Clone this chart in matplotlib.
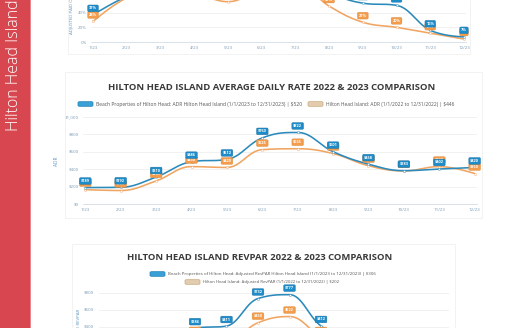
import numpy as np
import matplotlib
matplotlib.use("Agg")
import matplotlib.pyplot as plt
from matplotlib.patches import Rectangle, FancyBboxPatch

plt.rcParams['font.family'] = ['Open Sans', 'DejaVu Sans']

# ---- data ----
months = ['1/23', '2/23', '3/23', '4/23', '5/23', '6/23',
          '7/23', '8/23', '9/23', '10/23', '11/23', '12/23']

occ_beach = [37, 62, 75, 80, 78, 96, 95, 68, 53, 50, 16, 7]
occ_hhi = [28, 60, 68, 66, 55, 72, 82, 49, 27, 20, 12, 4]

adr_beach = [189, 192, 310, 486, 512, 760, 822, 601, 458, 383, 402, 420]
adr_hhi = [165, 155, 265, 430, 420, 625, 635, 580, 440, 380, 430, 350]

revpar_beach = [70, 120, 200, 386, 411, 732, 777, 412, 242, 199, 65, 30]
revpar_hhi = [46, 70, 180, 285, 231, 450, 522, 284, 119, 76, 52, 14]

occ_ticks = [0, 20, 40, 60, 80, 100]
adr_ticks = [0, 200, 400, 600, 800, 1000]
revpar_ticks = [0, 200, 400, 600, 800]

BLUE = '#2b8abb'
BLUE_LBL = '#1e8cc9'
ORANGE = '#f0a562'
ORANGE_LBL = '#f39c4c'
TICK = '#7b9bb6'
W, H = 525, 328


def fx(px):
    return px / W


def fy(py):
    return 1 - py / H


def spline(xs, ys, smoothing=1.5, n=30):
    # highcharts style spline through the points
    xs = np.asarray(xs, float)
    ys = np.asarray(ys, float)
    k = len(xs)
    denom = smoothing + 1
    lc = np.column_stack([xs, ys]).copy()
    rc = np.column_stack([xs, ys]).copy()
    for i in range(1, k - 1):
        px, py = xs[i], ys[i]
        lx, ly = xs[i - 1], ys[i - 1]
        nx, ny = xs[i + 1], ys[i + 1]
        lcx = (smoothing * px + lx) / denom
        lcy = (smoothing * py + ly) / denom
        rcx = (smoothing * px + nx) / denom
        rcy = (smoothing * py + ny) / denom
        corr = (rcy - lcy) * (rcx - px) / (rcx - lcx) + py - rcy
        lcy += corr
        rcy += corr
        if lcy > ly and lcy > py:
            lcy = max(ly, py)
            rcy = 2 * py - lcy
        elif lcy < ly and lcy < py:
            lcy = min(ly, py)
            rcy = 2 * py - lcy
        if rcy > ny and rcy > py:
            rcy = max(ny, py)
            lcy = 2 * py - rcy
        elif rcy < ny and rcy < py:
            rcy = min(ny, py)
            lcy = 2 * py - rcy
        lc[i] = lcx, lcy
        rc[i] = rcx, rcy
    t = np.linspace(0, 1, n)[:, None]
    out = []
    for i in range(1, k):
        p0 = np.array([xs[i - 1], ys[i - 1]])
        p3 = np.array([xs[i], ys[i]])
        b = ((1 - t) ** 3 * p0 + 3 * (1 - t) ** 2 * t * rc[i - 1]
             + 3 * (1 - t) * t ** 2 * lc[i] + t ** 3 * p3)
        out.append(b)
    out = np.vstack(out)
    return out[:, 0], out[:, 1]


def chart(rect, ticks, fmt, beach, hhi, lbl_fmt):
    x0, y0, x1, y1 = rect
    ax = fig.add_axes([fx(x0), fy(y1), (x1 - x0) / W, (y1 - y0) / H])
    xs = np.arange(len(months))
    for vals, col, lcol, z in [(hhi, ORANGE, ORANGE_LBL, 3), (beach, BLUE, BLUE_LBL, 4)]:
        sx, sy = spline(xs, vals)
        ax.plot(sx, sy, color=col, lw=1.15, zorder=z, solid_capstyle='round')
        ax.scatter(xs, vals, s=2.5, color='white', edgecolors=col, linewidths=0.3, zorder=z + 0.5)
        for i, v in enumerate(vals):
            ax.annotate(lbl_fmt(v), (i, v), xytext=(0, 4.7), textcoords='offset points',
                        ha='center', va='center', fontsize=2.8, fontweight='bold', color='white',
                        zorder=z + 2, annotation_clip=False,
                        bbox=dict(boxstyle='round,pad=0.35,rounding_size=0.3', fc=lcol,
                                  ec='#1b6f9e' if col == BLUE else '#d98a3f', lw=0.3))
    ax.set_xlim(-0.06, 11.06)
    ax.set_ylim(ticks[0], ticks[-1])
    ax.set_xticks(xs)
    ax.set_xticklabels(months)
    ax.set_yticks(ticks)
    ax.set_yticklabels([fmt(t) for t in ticks])
    ax.tick_params(length=0, labelsize=3.2, labelcolor=TICK, pad=3)
    ax.grid(axis='y', color='#ececec', lw=0.5)
    ax.set_axisbelow(True)
    for s in ['top', 'right', 'left']:
        ax.spines[s].set_visible(False)
    ax.spines['bottom'].set_color('#c9d6e2')
    ax.spines['bottom'].set_linewidth(0.5)
    return ax


def legend_item(x, y, text, fc, ec, size):
    fig.patches.append(FancyBboxPatch((fx(x), fy(y + 2.3)), 15 / W, 4.6 / H,
                                      boxstyle='round,pad=0,rounding_size=0.003',
                                      transform=fig.transFigure, fc=fc, ec=ec, lw=0.5))
    fig.text(fx(x + 18), fy(y), text, fontsize=size, color='#555555', va='center', ha='left')


fig = plt.figure(figsize=(W / 100, H / 100), dpi=100)
fig.patch.set_facecolor('white')

# red sidebar
fig.patches.append(Rectangle((0, 0), fx(30), 1, transform=fig.transFigure,
                             fc='#d8464f', ec='none'))
fig.patches.append(Rectangle((fx(29.5), 0), fx(1.5), 1, transform=fig.transFigure,
                             fc='#e6868c', ec='none'))
fig.text(fx(14.5), fy(131), 'Hilton Head Island', rotation=90, color='white',
         fontsize=11.5, ha='center', va='bottom', fontweight='light')

# containers
for (a, b, c, d) in [(68, -60, 470, 54), (65, 72, 482, 218), (72, 244, 455, 400)]:
    fig.patches.append(Rectangle((fx(a), fy(d)), (c - a) / W, (d - b) / H,
                                 transform=fig.transFigure, fc='none', ec='#f0f0f0', lw=0.6))

# top chart: occupancy (cut off by the page edge)
chart((91, -31.3, 466, 42), occ_ticks, lambda t: f'{t}%', occ_beach, occ_hhi, lambda v: f'{v}%')
fig.text(fx(71), fy(5), 'ADJUSTED PAID OCCUPANCY', rotation=90, fontsize=3.2,
         color='#5d93bf', ha='center', va='center')

# middle chart: ADR
fig.text(fx(272), fy(88), 'HILTON HEAD ISLAND AVERAGE DAILY RATE 2022 & 2023 COMPARISON',
         fontsize=6.8, fontweight='bold', color='#3a3a3a', ha='center', va='center')
legend_item(78, 104, 'Beach Properties of Hilton Head: ADR Hilton Head Island (1/1/2023 to 12/31/2023) | $520',
            '#3aa0d6', '#1b7fb8', 3.6)
legend_item(308, 104, 'Hilton Head Island: ADR (1/1/2022 to 12/31/2022) | $446', '#e3cdb0', '#c9a77c', 3.5)
chart((83.2, 117, 476.8, 204), adr_ticks, lambda t: f'${t:,}', adr_beach, adr_hhi, lambda v: f'${v}')
fig.text(fx(57), fy(161), 'ADR', rotation=90, fontsize=3.4, color='#5d93bf', ha='center', va='center')

# bottom chart: RevPAR (cut off)
fig.text(fx(260), fy(257), 'HILTON HEAD ISLAND REVPAR 2022 & 2023 COMPARISON',
         fontsize=6.8, fontweight='bold', color='#3a3a3a', ha='center', va='center')
legend_item(150, 274, 'Beach Properties of Hilton Head: Adjusted RevPAR Hilton Head Island (1/1/2023 to 12/31/2023) | $306',
            '#3aa0d6', '#1b7fb8', 3.2)
legend_item(185, 282, 'Hilton Head Island: Adjusted RevPAR (1/1/2022 to 12/31/2022) | $202',
            '#e3cdb0', '#c9a77c', 3.1)
chart((98.6, 292.7, 448.9, 361.3), revpar_ticks, lambda t: f'${t:,}', revpar_beach, revpar_hhi,
      lambda v: f'${v}')
fig.text(fx(78), fy(327), 'ADJUSTED REVPAR', rotation=90, fontsize=3.2, color='#5d93bf',
         ha='center', va='center')

fig.savefig('out.png', dpi=100)
